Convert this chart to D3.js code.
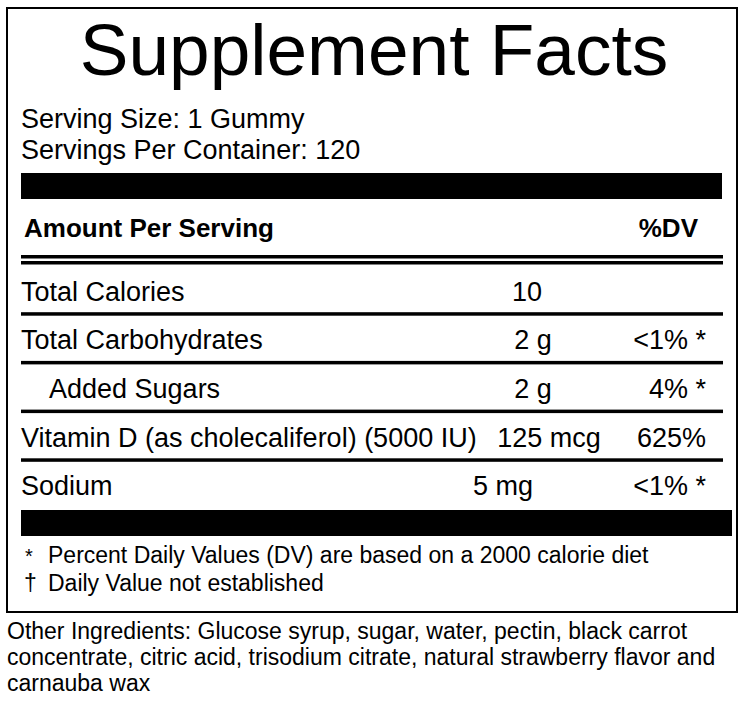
<!DOCTYPE html>
<html lang="en">
<head>
<meta charset="utf-8" />
<title>Supplement Facts</title>
<style>
html, body {
	margin: 0;
	padding: 0;
	background: #fff;
}
svg {
	display: block;
}
text {
	font-family: "Liberation Sans", Arial, Helvetica, sans-serif;
	fill: #000;
}
</style>
</head>
<body>
<svg></svg>

<script src="https://cdn.jsdelivr.net/npm/d3@7/dist/d3.min.js"></script>
<script>

// label contents
var title = "Supplement Facts";
var servingInfo = ["Serving Size: 1 Gummy", "Servings Per Container: 120"];
var headers = ["Amount Per Serving", "%DV"];
var nutrients = ["Total Calories", "Total Carbohydrates", "Added Sugars", "Vitamin D (as cholecaliferol) (5000 IU)", "Sodium"];
var amounts = ["10", "2 g", "2 g", "125 mcg", "5 mg"];
var dailyValues = ["", "<1% *", "4% *", "625%", "<1% *"];
var subItem = [false, false, true, false, false];
var footMarks = ["*", "\u2020"];
var footnotes = ["Percent Daily Values (DV) are based on a 2000 calorie diet", "Daily Value not established"];
var ingredients = [
	"Other Ingredients: Glucose syrup, sugar, water, pectin, black carrot",
	"concentrate, citric acid, trisodium citrate, natural strawberry flavor and",
	"carnauba wax"
];

var W = 748, H = 701;
var svg = d3.select("svg").attr("width", W).attr("height", H);

// layout
var left = 21, right = 722;
var amountCenter = [527, 533, 533, 549, 503]; // 量の列は行ごとにずれている
var dvRight = 706;

// outer box
svg.append("rect")
	.attr("x", 7).attr("y", 8)
	.attr("width", 730).attr("height", 604)
	.attr("fill", "none")
	.attr("stroke", "#000")
	.attr("stroke-width", 2);

// title
svg.append("text")
	.attr("x", 374).attr("y", 75)
	.attr("text-anchor", "middle")
	.attr("font-size", 73)
	.text(title);

// serving lines
svg.selectAll(".serving").data(servingInfo).enter().append("text")
	.attr("class", "serving")
	.attr("x", left)
	.attr("y", function(d, i){ return 128 + i * 31; })
	.attr("font-size", 27)
	.text(function(d){ return d; });

// thick bar
svg.append("rect")
	.attr("x", left).attr("y", 173)
	.attr("width", right - left).attr("height", 26)
	.attr("fill", "#000");

// column headers
svg.append("text")
	.attr("x", 24).attr("y", 237)
	.attr("font-size", 26).attr("font-weight", "bold")
	.text(headers[0]);
svg.append("text")
	.attr("x", 698).attr("y", 237)
	.attr("text-anchor", "end")
	.attr("font-size", 26).attr("font-weight", "bold")
	.text(headers[1]);

// double rule
[255, 261].forEach(function(y){
	svg.append("rect")
		.attr("x", left).attr("y", y)
		.attr("width", right - left + 1).attr("height", 3.5)
		.attr("fill", "#000");
});

// rows
var rowScale = d3.scaleBand()
	.domain(d3.range(nutrients.length))
	.range([265.5, 509]);

var rows = svg.selectAll(".row").data(nutrients).enter().append("g")
	.attr("class", "row")
	.attr("transform", function(d, i){ return "translate(0," + rowScale(i) + ")"; });

var bw = rowScale.bandwidth();

rows.append("text")
	.attr("x", function(d, i){ return subItem[i] ? 49 : left; })
	.attr("y", bw - 13.5)
	.attr("font-size", 27)
	.text(function(d){ return d; });

rows.append("text")
	.attr("x", function(d, i){ return amountCenter[i]; })
	.attr("y", bw - 13.5)
	.attr("text-anchor", "middle")
	.attr("font-size", 27)
	.text(function(d, i){ return amounts[i]; });

rows.append("text")
	.attr("x", dvRight)
	.attr("y", bw - 13.5)
	.attr("text-anchor", "end")
	.attr("font-size", 27)
	.text(function(d, i){ return dailyValues[i]; });

// separators between rows
rows.filter(function(d, i){ return i < nutrients.length - 1; })
	.append("rect")
	.attr("x", left).attr("y", bw - 2)
	.attr("width", right - left + 1).attr("height", 3.5)
	.attr("fill", "#000");

// bottom thick bar
svg.append("rect")
	.attr("x", left).attr("y", 510)
	.attr("width", 732 - left).attr("height", 26)
	.attr("fill", "#000");

// footnotes
var foot = svg.selectAll(".foot").data(footnotes).enter().append("g")
	.attr("class", "foot")
	.attr("transform", function(d, i){ return "translate(0," + (563 + i * 28) + ")"; });
foot.append("text")
	.attr("x", function(d, i){ return i == 0 ? 25 : 24; })
	.attr("font-size", function(d, i){ return i == 0 ? 20 : 23; })
	.text(function(d, i){ return footMarks[i]; });
foot.append("text")
	.attr("x", 48)
	.attr("font-size", 23)
	.text(function(d){ return d; });

// other ingredients
svg.selectAll(".ingr").data(ingredients).enter().append("text")
	.attr("class", "ingr")
	.attr("x", 7)
	.attr("y", function(d, i){ return 639 + i * 26; })
	.attr("font-size", 23)
	.text(function(d){ return d; });

</script>
</body>
</html>
